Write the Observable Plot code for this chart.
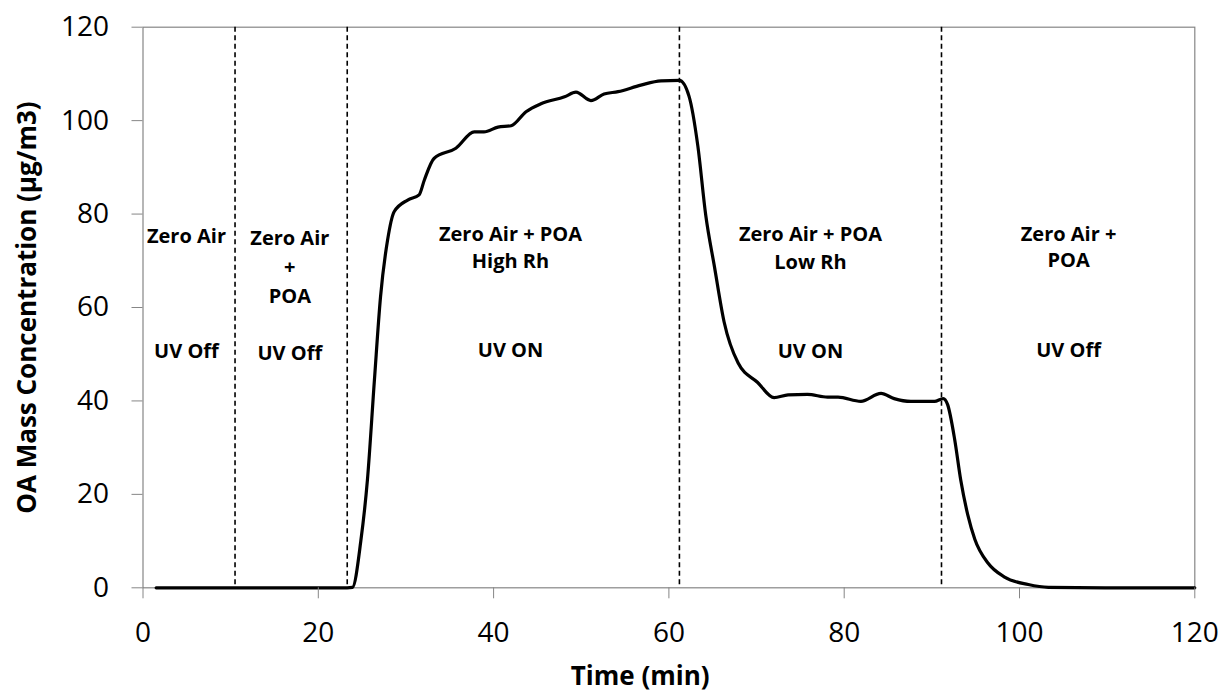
<!DOCTYPE html>
<html>
<head>
<meta charset="utf-8">
<script src="https://cdn.jsdelivr.net/npm/d3@7"></script>
<script src="https://cdn.jsdelivr.net/npm/@observablehq/plot@0.6"></script>
<style>
  html, body { margin: 0; padding: 0; background: white; }
</style>
</head>
<body>
<div id="chart"></div>
<script>
// Time (min) and OA mass concentration (µg/m3)
const time = [1.5, 5, 10, 15, 20, 23.3, 23.9, 24.85, 25.6, 26.4, 27.1, 27.9, 28.65, 30.2, 31.5, 32.1, 33.2, 35.7, 37.8, 38.9, 40.5, 42.0, 43.7, 45.4, 48.1, 49.4, 51.1, 52.6, 54.2, 56.8, 59.1, 61.2, 62.3, 63.3, 64.2, 65.2, 66.3, 67.9, 70.1, 72.0, 73.6, 75.8, 78.1, 79.3, 81.9, 84.2, 85.7, 87.6, 90.3, 91.3, 91.8, 92.6, 93.3, 94.1, 94.9, 96.4, 98.3, 101.0, 103.3, 110, 120];
const oaMass = [0, 0, 0, 0, 0, 0, 0.1, 10, 23, 44.4, 62.3, 74.4, 80.5, 83, 84.1, 87.3, 91.9, 94.1, 97.6, 97.6, 98.6, 98.9, 101.9, 103.6, 105.1, 106.1, 104.3, 105.7, 106.2, 107.6, 108.5, 108.6, 105.2, 94.6, 79.8, 68.7, 56.9, 48.1, 44.0, 40.7, 41.3, 41.4, 40.8, 40.8, 39.9, 41.6, 40.5, 39.9, 39.9, 40.5, 39.2, 31.8, 23.0, 15.6, 10.4, 5.3, 2.3, 0.7, 0.1, 0, 0];

// Phase boundaries (min)
const phaseBounds = [10.5, 23.3, 61.2, 91.1];

// Tick values
const xTicks = [0, 20, 40, 60, 80, 100, 120];
const yTicks = [0, 20, 40, 60, 80, 100, 120];

// Phase annotations (one entry per text line), anchored in data units
const noteText = ["Zero Air", "UV Off",
                  "Zero Air", "+", "POA", "UV Off",
                  "Zero Air + POA", "High Rh", "UV ON",
                  "Zero Air + POA", "Low Rh", "UV ON",
                  "Zero Air +", "POA", "UV Off"];
const noteX = [4.96, 4.96,
               16.75, 16.75, 16.75, 16.75,
               41.93, 41.93, 41.93,
               76.15, 76.15, 76.15,
               105.6, 105.6, 105.6];
const noteY = [75.1, 50.5,
               74.8, 68.6, 62.4, 50.2,
               75.5, 69.8, 50.7,
               75.5, 69.7, 50.6,
               75.6, 70.1, 50.8];

const xTitle = "Time (min)";
const yTitle = "OA Mass Concentration (µg/m3)";

const series = time.map((t, i) => ({t, v: oaMass[i]}));
const notes = noteText.map((s, i) => ({s, x: noteX[i], y: noteY[i]}));

const axisGray = "#868686";

const chart = Plot.plot({
  width: 1224,
  height: 694,
  marginLeft: 142.5,
  marginRight: 29.7,
  marginTop: 26.7,
  marginBottom: 106.7,
  style: {fontFamily: "'Open Sans', sans-serif", background: "white", color: "black"},
  x: {domain: [0, 120]},
  y: {domain: [0, 120]},
  marks: [
    Plot.frame({stroke: axisGray, strokeWidth: 1.2}),
    Plot.ruleX(phaseBounds, {stroke: "black", strokeWidth: 1.6, strokeDasharray: "5,3.5"}),
    Plot.lineY(series, {x: "t", y: "v", curve: "monotone-x", stroke: "black", strokeWidth: 3.2}),
    Plot.axisX({ticks: xTicks, tickSize: 11, tickPadding: 23, fontSize: 28, stroke: axisGray, fill: "black", label: null}),
    Plot.axisY({ticks: yTicks, tickSize: 11, tickPadding: 23, fontSize: 28, stroke: axisGray, fill: "black", label: null}),
    Plot.text(notes, {x: "x", y: "y", text: "s", fontSize: 20, fontWeight: "bold", fill: "black", textAnchor: "middle", lineAnchor: "middle"}),
    Plot.text([xTitle], {frameAnchor: "bottom", dy: 89, dx: -28.7, fontSize: 26, fontWeight: "bold", fill: "black", textAnchor: "middle", lineAnchor: "middle"}),
    Plot.text([yTitle], {frameAnchor: "left", dx: -115, rotate: -90, fontSize: 26, fontWeight: "bold", fill: "black", textAnchor: "middle", lineAnchor: "middle"})
  ]
});
document.getElementById("chart").appendChild(chart);
</script>
</body>
</html>
